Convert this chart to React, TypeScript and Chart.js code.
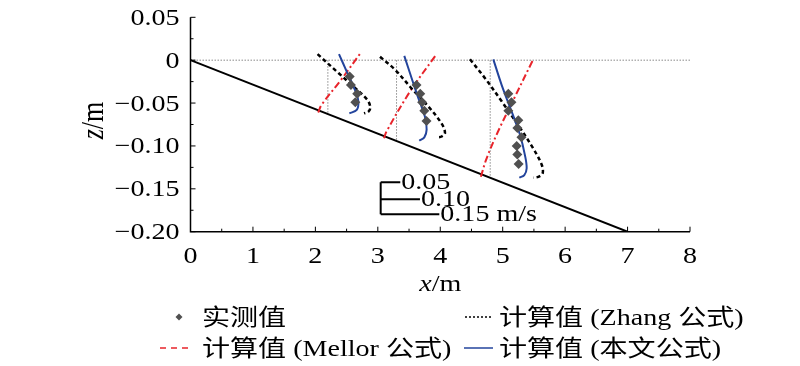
import React, { useEffect, useRef } from "react";
import { Chart, registerables } from "chart.js";

Chart.register(...registerables);

// ---- axes ----
const xMin = 0;
const xMax = 8;
const zMin = -0.2;
const zMax = 0.05;
const xTicks = [0, 1, 2, 3, 4, 5, 6, 7, 8];
const xTickLabels = ["0", "1", "2", "3", "4", "5", "6", "7", "8"];
const xMinorTicks = [0.5, 1.5, 2.5, 3.5, 4.5, 5.5, 6.5, 7.5];
const zTicks = [0.05, 0, -0.05, -0.1, -0.15, -0.2];
const zTickLabels = ["0.05", "0", "\u22120.05", "\u22120.10", "\u22120.15", "\u22120.20"];
const zMinorTicks = [0.025, -0.025, -0.075, -0.125, -0.175];

// ---- geometry ----
const bedX = [0, 7];
const bedZ = [0, -0.2];
const surfaceX = [0, 8];
const surfaceZ = [0, 0];
const stationX = [2.2, 3.3, 4.8];
const stationBedZ = [-0.062, -0.093, -0.137];

// ---- measured (实测值) ----
const meas1X = [2.55, 2.57, 2.67, 2.64];
const meas1Z = [-0.019, -0.029, -0.039, -0.049];
const meas2X = [3.62, 3.68, 3.71, 3.745, 3.78];
const meas2Z = [-0.029, -0.039, -0.049, -0.059, -0.071];
const meas3X = [5.09, 5.14, 5.09, 5.25, 5.235, 5.3, 5.224, 5.234, 5.255];
const meas3Z = [-0.039, -0.049, -0.059, -0.07, -0.079, -0.09, -0.1, -0.11, -0.121];

// ---- Zhang formula ----
const zhang1X = [2.035, 2.37, 2.6, 2.83, 2.88, 2.85, 2.78];
const zhang1Z = [0.007, -0.015, -0.03, -0.046, -0.055, -0.06, -0.062];
const zhang2X = [3.035, 3.275, 3.542, 3.809, 4.023, 4.076, 4.023, 3.943];
const zhang2Z = [0.004, -0.011, -0.033, -0.054, -0.074, -0.085, -0.089, -0.09];
const zhang3X = [4.476, 4.717, 4.984, 5.25, 5.49, 5.625, 5.64, 5.57, 5.49];
const zhang3Z = [0.001, -0.021, -0.048, -0.076, -0.103, -0.122, -0.132, -0.136, -0.137];

// ---- Mellor formula ----
const mellor1X = [2.045, 2.1, 2.4, 2.72];
const mellor1Z = [-0.061, -0.052, -0.024, 0.008];
const mellor2X = [3.1, 3.14, 3.52, 3.92];
const mellor2Z = [-0.091, -0.083, -0.036, 0.005];
const mellor3X = [4.65, 4.74, 4.92, 5.18, 5.49];
const mellor3Z = [-0.136, -0.115, -0.084, -0.045, 0.001];

// ---- present formula (本文公式) ----
const ours1X = [2.378, 2.501, 2.635, 2.688, 2.662, 2.544];
const ours1Z = [0.007, -0.013, -0.035, -0.048, -0.058, -0.062];
const ours2X = [3.424, 3.542, 3.648, 3.755, 3.782, 3.745, 3.664];
const ours2Z = [0.005, -0.021, -0.044, -0.066, -0.081, -0.09, -0.094];
const ours3X = [4.85, 4.984, 5.144, 5.277, 5.357, 5.384, 5.346, 5.266];
const ours3Z = [0.001, -0.029, -0.06, -0.087, -0.111, -0.126, -0.134, -0.137];

// ---- velocity scale bar ----
const scaleBarX0 = 3.046;
const scaleBarEndX = [3.36, 3.675, 3.985];
const scaleBarZ = [-0.1424, -0.1622, -0.1797];
const scaleBarLabels = ["0.05", "0.10", "0.15 m/s"];

// ---- legend ----
const legendLabels = ["实测值", "计算值 (Zhang 公式)", "计算值 (Mellor 公式)", "计算值 (本文公式)"];

const RED = "#e8242b";
const BLUE = "#23449c";
const GRAY = "#8a8a8a";
const DIAMOND = "#505050";
const FONT = '"Liberation Serif", "Noto Sans CJK SC", serif';
const SX = 1.22;

const pts = (xs: number[], zs: number[]) => xs.map((v, i) => ({ x: v, y: zs[i] }));

function sText(ctx: CanvasRenderingContext2D, s: string, x: number, y: number, align: string, size: number, italic = false) {
  ctx.font = `${italic ? "italic " : ""}${size}px ${FONT}`;
  const w = ctx.measureText(s).width * SX;
  let left = x;
  if (align === "center") left = x - w / 2;
  else if (align === "right") left = x - w;
  ctx.save();
  ctx.translate(left, y);
  ctx.scale(SX, 1);
  ctx.textAlign = "left";
  ctx.textBaseline = "alphabetic";
  ctx.fillStyle = "#000";
  ctx.fillText(s, 0, 0);
  ctx.restore();
  return w;
}

const overlay = {
  id: "overlay",
  afterDraw(chart: any) {
    const ctx: CanvasRenderingContext2D = chart.ctx;
    const xs = chart.scales.x;
    const ys = chart.scales.y;
    const X = (v: number) => xs.getPixelForValue(v);
    const Y = (v: number) => ys.getPixelForValue(v);
    ctx.save();
    // axis lines
    ctx.strokeStyle = "#000";
    ctx.lineWidth = 1.5;
    ctx.setLineDash([]);
    ctx.beginPath();
    ctx.moveTo(X(xMin), Y(zMax));
    ctx.lineTo(X(xMin), Y(zMin));
    ctx.lineTo(X(xMax), Y(zMin));
    ctx.stroke();
    // ticks (inward)
    ctx.lineWidth = 1;
    ctx.beginPath();
    xTicks.forEach((v) => { ctx.moveTo(X(v), Y(zMin)); ctx.lineTo(X(v), Y(zMin) - 5); });
    xMinorTicks.forEach((v) => { ctx.moveTo(X(v), Y(zMin)); ctx.lineTo(X(v), Y(zMin) - 3); });
    zTicks.forEach((v) => { ctx.moveTo(X(xMin), Y(v)); ctx.lineTo(X(xMin) + 5, Y(v)); });
    zMinorTicks.forEach((v) => { ctx.moveTo(X(xMin), Y(v)); ctx.lineTo(X(xMin) + 3, Y(v)); });
    ctx.stroke();
    // tick labels
    xTicks.forEach((v, i) => sText(ctx, xTickLabels[i], X(v), Y(zMin) + 31.5, "center", 23));
    zTicks.forEach((v, i) => sText(ctx, zTickLabels[i], X(xMin) - 11, Y(v) + 7.5, "right", 23));
    // axis titles
    {
      ctx.font = `italic 23px ${FONT}`;
      const w1 = ctx.measureText("x").width * SX;
      ctx.font = `23px ${FONT}`;
      const w2 = ctx.measureText("/m").width * SX;
      const cx = (X(xMin) + X(xMax)) / 2;
      const left = cx - (w1 + w2) / 2;
      sText(ctx, "x", left, 291, "left", 23, true);
      sText(ctx, "/m", left + w1, 291, "left", 23);
    }
    {
      ctx.save();
      ctx.translate(103, (Y(zMax) + Y(zMin)) / 2 - 4);
      ctx.rotate(-Math.PI / 2);
      ctx.fillStyle = "#000";
      ctx.textBaseline = "alphabetic";
      ctx.font = `italic 26px ${FONT}`;
      const w1 = ctx.measureText("z").width;
      ctx.font = `26px ${FONT}`;
      const w2 = ctx.measureText("/m").width;
      const left = -(w1 + w2) / 2;
      ctx.font = `italic 26px ${FONT}`;
      ctx.textAlign = "left";
      ctx.scale(1, SX);
      ctx.fillText("z", left, 0);
      ctx.font = `26px ${FONT}`;
      ctx.fillText("/m", left + w1, 0);
      ctx.restore();
    }
    // scale bar labels
    scaleBarZ.forEach((z, i) => sText(ctx, scaleBarLabels[i], X(scaleBarEndX[i]) + 1, Y(z) + 6.5, "left", 23));

    // legend
    const r1 = 317;
    const r2 = 348;
    // diamond
    ctx.fillStyle = DIAMOND;
    ctx.beginPath();
    ctx.moveTo(179, r1 - 3.5);
    ctx.lineTo(182.5, r1);
    ctx.lineTo(179, r1 + 3.5);
    ctx.lineTo(175.5, r1);
    ctx.closePath();
    ctx.fill();
    sText(ctx, legendLabels[0], 202, r1 + 8, "left", 23);
    // zhang dotted
    ctx.strokeStyle = "#000";
    ctx.lineWidth = 1.5;
    ctx.setLineDash([2, 2]);
    ctx.beginPath();
    ctx.moveTo(465, r1);
    ctx.lineTo(493, r1);
    ctx.stroke();
    sText(ctx, legendLabels[1], 499, r1 + 8, "left", 23);
    // mellor dashed
    ctx.strokeStyle = RED;
    ctx.setLineDash([6, 5]);
    ctx.beginPath();
    ctx.moveTo(160, r2);
    ctx.lineTo(192, r2);
    ctx.stroke();
    sText(ctx, legendLabels[2], 202, r2 + 8, "left", 23);
    // ours solid
    ctx.strokeStyle = BLUE;
    ctx.setLineDash([]);
    ctx.beginPath();
    ctx.moveTo(464, r2);
    ctx.lineTo(493, r2);
    ctx.stroke();
    sText(ctx, legendLabels[3], 499, r2 + 8, "left", 23);
    ctx.restore();
  },
};

export default function App() {
  const ref = useRef<HTMLCanvasElement>(null);
  useEffect(() => {
    if (!ref.current) return;
    const line = (data: any[], color: string, width: number, dash: number[] = []) => ({
      data,
      showLine: true,
      borderColor: color,
      borderWidth: width,
      borderDash: dash,
      pointRadius: 0,
      fill: false,
      tension: 0.35,
    });
    const stationLines = stationX.map((sx, i) =>
      Object.assign(line(pts([sx, sx], [0, stationBedZ[i]]), GRAY, 1, [1.5, 1.5]), { tension: 0 })
    );
    const scaleBarLines = [
      Object.assign(line(pts([scaleBarX0, scaleBarX0], [scaleBarZ[0], scaleBarZ[2]]), "#000", 2), { tension: 0 }),
      ...scaleBarZ.map((z, i) =>
        Object.assign(line(pts([scaleBarX0, scaleBarEndX[i]], [z, z]), "#000", 2), { tension: 0 })
      ),
    ];
    const datasets: any[] = [
      {
        label: legendLabels[0],
        data: [...pts(meas1X, meas1Z), ...pts(meas2X, meas2Z), ...pts(meas3X, meas3Z)],
        showLine: false,
        pointStyle: "rectRot",
        pointRadius: 5,
        backgroundColor: DIAMOND,
        borderColor: DIAMOND,
        borderWidth: 0,
      },
      line(pts(ours1X, ours1Z), BLUE, 2),
      line(pts(ours2X, ours2Z), BLUE, 2),
      line(pts(ours3X, ours3Z), BLUE, 2),
      line(pts(zhang1X, zhang1Z), "#000", 2.5, [4, 3]),
      line(pts(zhang2X, zhang2Z), "#000", 2.5, [4, 3]),
      line(pts(zhang3X, zhang3Z), "#000", 2.5, [4, 3]),
      line(pts(mellor1X, mellor1Z), RED, 2, [7, 3, 2, 3]),
      line(pts(mellor2X, mellor2Z), RED, 2, [7, 3, 2, 3]),
      line(pts(mellor3X, mellor3Z), RED, 2, [7, 3, 2, 3]),
      Object.assign(line(pts(bedX, bedZ), "#000", 2), { tension: 0 }),
      ...scaleBarLines,
      ...stationLines,
      Object.assign(line(pts(surfaceX, surfaceZ), GRAY, 1, [1.5, 1.5]), { tension: 0 }),
    ];
    const chart = new Chart(ref.current, {
      type: "scatter",
      data: { datasets },
      options: {
        animation: false,
        responsive: false,
        devicePixelRatio: 1,
        layout: { padding: { left: 190.5, right: 110, top: 17.3, bottom: 134.3 } },
        scales: {
          x: { type: "linear", min: xMin, max: xMax, display: false },
          y: { type: "linear", min: zMin, max: zMax, display: false },
        },
        plugins: { legend: { display: false }, tooltip: { enabled: false } },
        elements: { line: { capBezierPoints: true } },
      } as any,
      plugins: [overlay],
    });
    return () => chart.destroy();
  }, []);
  return (
    <div style={{ position: "fixed", left: 0, top: 0, width: 800, height: 366, background: "#fff" }}>
      <canvas ref={ref} width={800} height={366} style={{ display: "block" }} />
    </div>
  );
}
